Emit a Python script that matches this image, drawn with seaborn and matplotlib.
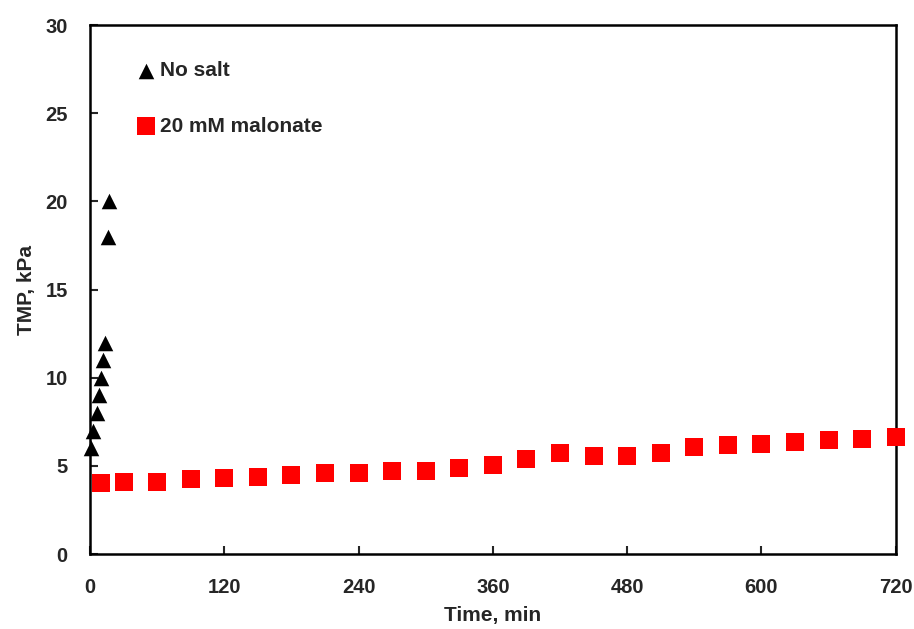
"""
TMP vs time: no salt vs 20 mM malonate.
"""
import matplotlib
matplotlib.use('Agg')
import matplotlib.pyplot as plt
import seaborn as sns
import pandas as pd

# No salt run (min, kPa)
no_salt_time = [1, 3, 6, 8, 10, 12, 13, 16, 17]
no_salt_tmp = [6, 7, 8, 9, 10, 11, 12, 18, 20]

# 20 mM malonate run (min, kPa)
malonate_time = [10, 30, 60, 90, 120, 150, 180, 210, 240, 270, 300, 330, 360,
                 390, 420, 450, 480, 510, 540, 570, 600, 630, 660, 690, 720]
malonate_tmp = [4.02, 4.09, 4.09, 4.24, 4.30, 4.38, 4.51, 4.62, 4.62, 4.73, 4.73, 4.87, 5.06,
                5.38, 5.75, 5.56, 5.56, 5.75, 6.05, 6.17, 6.24, 6.36, 6.47, 6.55, 6.66]

x_ticks = [0, 120, 240, 360, 480, 600, 720]
y_ticks = [0, 5, 10, 15, 20, 25, 30]

sns.set_style('white')
plt.rcParams['font.family'] = ['Liberation Sans', 'DejaVu Sans']
plt.rcParams['font.weight'] = 'bold'

fig = plt.figure(figsize=(9.14, 6.29), dpi=100)
ax = fig.add_axes([0.0985, 0.119, 0.8815, 0.841])

df_ns = pd.DataFrame({'time': no_salt_time, 'tmp': no_salt_tmp})
df_mal = pd.DataFrame({'time': malonate_time, 'tmp': malonate_tmp})

sns.scatterplot(data=df_ns, x='time', y='tmp', marker='^', color='black',
                s=125, linewidth=0, ax=ax, label='No salt', clip_on=False, zorder=3)
sns.scatterplot(data=df_mal, x='time', y='tmp', marker='s', color='#ff0000',
                s=170, linewidth=0, ax=ax, label='20 mM malonate', clip_on=False, zorder=3)

ax.set_xlim(0, 720)
ax.set_ylim(0, 30)
ax.set_xticks(x_ticks)
ax.set_yticks(y_ticks)
ax.tick_params(axis='both', direction='in', length=6, width=1.5, labelsize=14.5,
               top=False, right=False, left=True, bottom=True)
ax.tick_params(axis='x', pad=17)
ax.tick_params(axis='y', pad=16)
for lbl in ax.get_xticklabels() + ax.get_yticklabels():
    lbl.set_fontweight('bold')
for sp in ax.spines.values():
    sp.set_linewidth(1.8)
    sp.set_color('black')

ax.set_xlabel('Time, min', fontsize=15, fontweight='bold', labelpad=7)
ax.set_ylabel('TMP, kPa', fontsize=15, fontweight='bold', labelpad=7)

ax.legend(loc='upper left', bbox_to_anchor=(0.02, 0.967), frameon=False,
          handletextpad=-0.3, labelspacing=1.75, markerscale=1.0,
          prop={'weight': 'bold', 'size': 15})

fig.savefig('out.png', dpi=100, facecolor='white')
